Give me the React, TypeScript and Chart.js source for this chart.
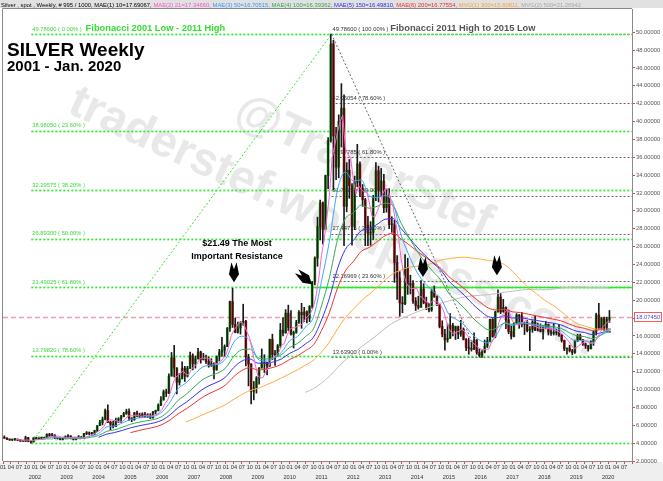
import React, { useEffect, useRef } from "react";
import { Chart, registerables } from "chart.js";

Chart.register(...registerables);

const W = 663;
const H = 481;
const FONT = "'Liberation Sans', Arial, Helvetica, sans-serif";

// ---- axis extent (months, Jan 2001 = 0) ----
const AXIS_START = "2001-01";
const AXIS_END = "2020-10";

// ---- monthly OHLC, Jan 2001 .. Jan 2020 ----
const open = [
  4.60, 4.55, 4.42, 4.35, 4.38, 4.40, 4.32, 4.25, 4.20, 4.62, 4.22, 4.12,
  4.58, 4.48, 4.55, 4.55, 4.60, 4.98, 4.85, 4.90, 4.55, 4.55, 4.40, 4.55,
  4.67, 4.80, 4.58, 4.42, 4.55, 4.60, 4.55, 5.08, 5.05, 5.15, 5.05, 5.40,
  5.96, 6.30, 6.65, 7.65, 6.35, 6.10, 5.85, 6.55, 6.75, 6.95, 7.30, 7.55,
  6.82, 6.65, 7.40, 7.10, 6.92, 7.25, 7.05, 7.10, 6.82, 7.50, 7.65, 8.25,
  8.83, 9.75, 9.60, 11.50, 13.55, 12.40, 10.80, 11.20, 12.40, 11.50, 12.40, 13.80,
  12.90, 13.45, 14.20, 13.35, 13.50, 13.15, 12.65, 12.90, 12.20, 13.75, 14.20, 14.40,
  14.80, 16.85, 19.85, 17.30, 16.40, 16.90, 17.45, 17.65, 13.65, 12.85, 9.80, 10.20,
  11.30, 12.40, 13.00, 13.05, 12.65, 15.60, 13.90, 13.95, 14.90, 16.65, 16.35, 18.55,
  16.95, 16.20, 16.40, 17.50, 18.65, 18.35, 18.70, 18.00, 19.30, 22.05, 24.70, 28.25,
  30.90, 27.95, 33.95, 37.85, 48.70, 38.40, 34.90, 40.05, 41.50, 30.50, 34.55, 32.80,
  28.25, 33.20, 35.25, 32.50, 31.25, 28.40, 27.50, 27.60, 31.60, 34.50, 32.35, 33.35,
  30.35, 31.70, 28.45, 28.45, 24.20, 22.50, 19.70, 19.60, 23.60, 21.70, 21.90, 19.90,
  19.40, 19.20, 21.25, 19.75, 19.10, 18.90, 21.00, 20.40, 19.50, 17.05, 16.20, 15.55,
  15.75, 17.20, 16.60, 17.05, 16.20, 16.75, 15.60, 14.70, 14.60, 14.50, 15.55, 14.15,
  13.85, 14.20, 14.85, 15.45, 17.85, 15.95, 18.70, 20.35, 18.70, 19.20, 17.80, 16.50,
  15.95, 17.45, 18.35, 18.20, 17.30, 17.45, 16.60, 16.75, 17.55, 16.65, 16.75, 16.50,
  17.00, 17.30, 16.45, 16.30, 16.35, 16.45, 16.10, 15.50, 14.55, 14.65, 14.35, 14.15,
  15.50, 16.05, 15.60, 15.10, 14.90, 14.55, 15.35, 16.45, 18.35, 16.90, 18.00, 16.95,
  17.85,
];
const high = [
  4.82, 4.62, 4.48, 4.45, 4.55, 4.48, 4.40, 4.35, 4.78, 4.65, 4.28, 4.62,
  4.65, 4.60, 4.65, 4.65, 5.05, 5.10, 5.10, 4.95, 4.65, 4.55, 4.60, 4.82,
  4.95, 4.85, 4.65, 4.65, 4.85, 4.75, 5.10, 5.30, 5.25, 5.20, 5.45, 5.98,
  6.55, 6.92, 7.82, 8.29, 6.45, 6.45, 6.80, 6.85, 7.10, 7.45, 7.80, 7.85,
  6.85, 7.45, 7.58, 7.35, 7.40, 7.45, 7.30, 7.30, 7.55, 7.70, 8.40, 9.20,
  9.95, 10.05, 11.75, 14.15, 14.95, 12.45, 11.80, 13.10, 12.60, 12.60, 14.20, 14.00,
  13.75, 14.60, 14.30, 14.05, 13.85, 13.65, 13.45, 13.00, 13.75, 14.50, 15.85, 15.00,
  16.95, 19.90, 21.35, 18.00, 17.55, 17.60, 19.55, 17.75, 13.95, 12.90, 10.90, 11.45,
  12.45, 14.55, 13.90, 13.05, 15.65, 16.20, 14.40, 15.05, 17.40, 18.05, 18.95, 19.45,
  18.85, 16.55, 17.75, 18.85, 19.65, 19.20, 18.80, 19.40, 22.10, 24.85, 29.30, 31.20,
  31.00, 34.00, 38.20, 49.80, 49.10, 39.35, 40.75, 44.25, 43.00, 35.40, 35.75, 33.05,
  33.90, 37.45, 35.50, 32.95, 31.40, 29.40, 28.80, 31.75, 35.40, 35.00, 34.75, 34.10,
  32.45, 32.50, 29.35, 28.95, 25.00, 23.20, 20.40, 25.10, 24.70, 22.80, 22.20, 20.30,
  20.45, 22.20, 21.85, 20.35, 19.65, 21.25, 21.60, 20.50, 19.55, 17.70, 16.75, 17.35,
  18.50, 17.40, 17.10, 17.10, 17.75, 16.90, 15.70, 15.75, 15.35, 16.35, 15.60, 14.55,
  14.35, 15.55, 15.85, 17.90, 17.95, 18.75, 21.15, 20.75, 20.10, 19.25, 18.90, 17.15,
  17.50, 18.50, 18.40, 18.65, 17.55, 17.75, 17.05, 17.70, 18.20, 17.45, 17.35, 17.15,
  17.65, 17.35, 16.80, 17.35, 16.75, 17.30, 16.15, 15.55, 14.65, 14.95, 14.50, 15.55,
  16.20, 16.20, 15.60, 15.20, 14.95, 15.45, 16.55, 18.55, 19.65, 18.10, 18.10, 18.10,
  18.85,
];
const low = [
  4.52, 4.40, 4.30, 4.28, 4.30, 4.28, 4.18, 4.18, 4.18, 4.15, 4.01, 4.12,
  4.42, 4.40, 4.45, 4.50, 4.55, 4.75, 4.80, 4.52, 4.45, 4.35, 4.35, 4.50,
  4.65, 4.55, 4.35, 4.37, 4.50, 4.50, 4.52, 4.95, 4.95, 4.85, 4.95, 5.28,
  5.95, 6.05, 6.60, 6.30, 5.50, 5.70, 5.85, 6.30, 6.30, 6.95, 7.22, 6.55,
  6.40, 6.55, 6.95, 6.85, 6.90, 6.85, 6.85, 6.75, 6.80, 7.30, 7.60, 8.20,
  8.80, 9.20, 9.55, 11.50, 11.40, 9.50, 10.50, 11.20, 10.90, 11.40, 12.35, 12.20,
  12.40, 13.40, 12.95, 13.30, 12.90, 12.50, 12.60, 11.20, 12.15, 13.20, 13.70, 13.70,
  14.80, 16.50, 16.95, 16.35, 16.30, 16.20, 17.20, 12.65, 10.40, 8.40, 8.85, 9.60,
  10.60, 12.40, 11.90, 11.65, 12.55, 13.35, 12.70, 13.70, 14.70, 16.00, 16.30, 16.60,
  16.10, 14.65, 16.30, 17.40, 16.85, 17.60, 17.45, 17.60, 19.10, 21.70, 23.80, 26.75,
  26.30, 27.90, 32.50, 37.70, 32.35, 33.50, 33.70, 37.15, 26.10, 29.90, 31.40, 26.15,
  27.90, 32.70, 31.60, 30.50, 26.10, 26.10, 26.15, 26.80, 31.15, 31.00, 31.60, 29.80,
  29.85, 28.00, 27.60, 22.00, 20.10, 18.20, 18.60, 19.50, 20.65, 20.70, 19.65, 18.85,
  19.00, 19.20, 19.60, 18.95, 18.70, 18.75, 20.30, 19.40, 16.90, 15.90, 14.40, 15.30,
  15.70, 16.00, 15.60, 15.70, 15.95, 15.55, 14.35, 13.95, 14.30, 14.45, 13.95, 13.64,
  13.60, 14.10, 14.70, 15.35, 15.85, 15.80, 18.65, 18.50, 18.65, 16.80, 16.25, 15.65,
  15.90, 17.30, 16.85, 17.00, 16.15, 16.45, 14.35, 16.40, 16.60, 16.55, 16.45, 15.65,
  16.80, 16.10, 16.05, 16.10, 16.10, 15.95, 15.30, 14.35, 13.95, 14.20, 13.90, 14.05,
  15.35, 15.55, 14.95, 14.60, 14.30, 14.55, 14.95, 16.10, 16.85, 16.70, 16.60, 16.65,
  17.50,
];
const close = [
  4.55, 4.42, 4.35, 4.38, 4.40, 4.32, 4.25, 4.20, 4.62, 4.22, 4.12, 4.58,
  4.48, 4.55, 4.55, 4.60, 4.98, 4.85, 4.90, 4.55, 4.55, 4.40, 4.55, 4.67,
  4.80, 4.58, 4.42, 4.55, 4.60, 4.55, 5.08, 5.05, 5.15, 5.05, 5.40, 5.96,
  6.30, 6.65, 7.65, 6.35, 6.10, 5.85, 6.55, 6.75, 6.95, 7.30, 7.55, 6.82,
  6.65, 7.40, 7.10, 6.92, 7.25, 7.05, 7.10, 6.82, 7.50, 7.65, 8.25, 8.83,
  9.75, 9.60, 11.50, 13.55, 12.40, 10.80, 11.20, 12.40, 11.50, 12.40, 13.80, 12.90,
  13.45, 14.20, 13.35, 13.50, 13.15, 12.65, 12.90, 12.20, 13.75, 14.20, 14.40, 14.80,
  16.85, 19.85, 17.30, 16.40, 16.90, 17.45, 17.65, 13.65, 12.85, 9.80, 10.20, 11.30,
  12.40, 13.00, 13.05, 12.65, 15.60, 13.90, 13.95, 14.90, 16.65, 16.35, 18.55, 16.95,
  16.20, 16.40, 17.50, 18.65, 18.35, 18.70, 18.00, 19.30, 22.05, 24.70, 28.25, 30.90,
  27.95, 33.95, 37.85, 48.70, 38.40, 34.90, 40.05, 41.50, 30.50, 34.55, 32.80, 28.25,
  33.20, 35.25, 32.50, 31.25, 28.40, 27.50, 27.60, 31.60, 34.50, 32.35, 33.35, 30.35,
  31.70, 28.45, 28.45, 24.20, 22.50, 19.70, 19.60, 23.60, 21.70, 21.90, 19.90, 19.40,
  19.20, 21.25, 19.75, 19.10, 18.90, 21.00, 20.40, 19.50, 17.05, 16.20, 15.55, 15.75,
  17.20, 16.60, 17.05, 16.20, 16.75, 15.60, 14.70, 14.60, 14.50, 15.55, 14.15, 13.85,
  14.20, 14.85, 15.45, 17.85, 15.95, 18.70, 20.35, 18.70, 19.20, 17.80, 16.50, 15.95,
  17.45, 18.35, 18.20, 17.30, 17.45, 16.60, 16.75, 17.55, 16.65, 16.75, 16.50, 17.00,
  17.30, 16.45, 16.30, 16.35, 16.45, 16.10, 15.50, 14.55, 14.65, 14.35, 14.15, 15.50,
  16.05, 15.60, 15.10, 14.90, 14.55, 15.35, 16.45, 18.35, 16.90, 18.00, 16.95, 17.85,
  18.07,
];

// ---- moving averages ----
const MA_LAST_DATE = "2020-01-31";
const MA21_START = "2001-05"; // monthly points
const MA21 = [
  4.42, 4.37, 4.34, 4.31, 4.36, 4.32, 4.28, 4.35,
  4.40, 4.39, 4.46, 4.55, 4.63, 4.71, 4.78, 4.78, 4.77, 4.65, 4.59, 4.54,
  4.59, 4.60, 4.60, 4.60, 4.59, 4.54, 4.64, 4.77, 4.89, 4.98, 5.15, 5.32,
  5.57, 5.87, 6.39, 6.58, 6.61, 6.52, 6.50, 6.32, 6.44, 6.68, 7.02, 7.07,
  7.05, 7.14, 7.10, 6.98, 7.06, 7.14, 7.08, 7.03, 7.14, 7.22, 7.46, 7.81,
  8.40, 8.82, 9.59, 10.65, 11.36, 11.57, 11.89, 12.07, 11.66, 11.66, 12.26, 12.60,
  12.81, 13.35, 13.54, 13.48, 13.53, 13.37, 13.11, 12.88, 12.93, 13.14, 13.49, 13.87,
  14.80, 16.02, 16.64, 17.04, 17.46, 17.58, 17.14, 16.41, 15.70, 14.28, 12.83, 11.56,
  11.31, 11.34, 11.99, 12.48, 13.34, 13.64, 13.83, 14.20, 15.00, 15.15, 16.08, 16.68,
  16.94, 16.89, 17.12, 17.14, 17.42, 17.92, 18.24, 18.60, 19.28, 20.55, 22.46, 25.04,
  26.77, 29.15, 31.78, 35.87, 37.37, 38.76, 39.98, 40.71, 37.07, 36.30, 35.88, 33.52,
  31.86, 32.81, 32.40, 32.09, 32.12, 30.98, 29.45, 29.27, 29.92, 30.71, 31.88, 32.43,
  32.45, 31.24, 30.46, 28.63, 27.06, 24.66, 22.89, 21.92, 21.42, 21.30, 21.34, 21.30,
  20.42, 20.33, 19.90, 19.74, 19.64, 20.00, 19.83, 19.78, 19.37, 18.83, 17.74, 16.81,
  16.35, 16.26, 16.43, 16.56, 16.76, 16.44, 16.06, 15.57, 15.23, 14.99, 14.70, 14.53,
  14.45, 14.52, 14.50, 15.24, 15.66, 16.56, 17.66, 18.31, 18.58, 18.95, 18.51, 17.63,
  17.38, 17.21, 17.29, 17.45, 17.75, 17.58, 17.26, 17.13, 17.00, 16.86, 16.84, 16.89,
  16.84, 16.80, 16.71, 16.68, 16.57, 16.33, 16.14, 15.79, 15.45, 15.03, 14.64, 14.64,
  14.94, 15.13, 15.28, 15.43, 15.24, 15.10, 15.27, 15.92, 16.32, 17.01, 17.33, 17.61,
  17.55,
];
const MA50_START = "2001-12"; // quarterly points from here
const MA50 = [
  4.37, 4.44, 4.59, 4.62, 4.59, 4.59, 4.58, 4.79, 5.07, 5.80,
  5.92, 6.26, 6.65, 6.81, 6.92, 7.01, 7.51, 8.63, 10.10, 10.75,
  11.67, 12.48, 12.73, 12.82, 13.49, 15.32, 15.97, 15.46, 13.42, 13.18,
  13.53, 14.19, 15.44, 15.95, 17.01, 18.13, 22.11, 26.62, 32.31, 34.35,
  33.35, 33.47, 31.68, 31.50, 31.71, 30.83, 27.31, 25.01, 23.14, 21.90,
  21.00, 20.18, 18.42, 17.82, 17.16, 16.12, 15.47, 15.21, 16.14, 17.47,
  17.18, 17.51, 17.35, 17.20, 17.02, 16.88, 16.65, 15.94, 15.43, 15.49,
  15.26, 16.06, 16.68,
];
const MA50_LAST = 16.71;
const MA100_START = "2002-12";
const MA100 = [
  4.50, 4.52, 4.53, 4.66, 4.85, 5.31, 5.49, 5.78, 6.11, 6.33,
  6.50, 6.65, 7.01, 7.76, 8.79, 9.46, 10.28, 11.06, 11.53, 11.86,
  12.46, 13.73, 14.46, 14.52, 13.58, 13.41, 13.56, 13.93, 14.70, 15.16,
  15.94, 16.82, 19.37, 22.55, 26.70, 29.14, 29.77, 30.66, 30.29, 30.51,
  30.86, 30.56, 28.63, 27.03, 25.51, 24.26, 23.21, 22.24, 20.77, 19.90,
  19.05, 18.03, 17.23, 16.68, 16.87, 17.45, 17.29, 17.45, 17.37, 17.28,
  17.16, 17.05, 16.88, 16.43, 16.03, 15.93, 15.70, 16.05, 16.41,
];
const MA100_LAST = 16.39;
const MA150_START = "2003-12";
const MA150 = [
  4.65, 5.00, 5.18, 5.43, 5.71, 5.92, 6.10, 6.27, 6.58, 7.17,
  7.98, 8.57, 9.28, 9.98, 10.48, 10.87, 11.44, 12.48, 13.19, 13.43,
  12.95, 12.93, 13.11, 13.44, 14.05, 14.47, 15.12, 15.86, 17.78, 20.24,
  23.49, 25.69, 26.67, 27.78, 27.98, 28.50, 29.06, 29.13, 28.02, 27.00,
  25.95, 25.02, 24.17, 23.35, 22.15, 21.32, 20.50, 19.56, 18.76, 18.14,
  18.04, 18.26, 18.02, 18.02, 17.88, 17.74, 17.58, 17.44, 17.26, 16.89,
  16.54, 16.39, 16.16, 16.33, 16.53,
];
const MA150_LAST = 16.5;
const MA200_START = "2004-12";
const MA200 = [
  5.17, 5.40, 5.60, 5.79, 6.09, 6.60, 7.29, 7.83, 8.46, 9.10,
  9.59, 10.00, 10.55, 11.46, 12.13, 12.45, 12.20, 12.28, 12.50, 12.83,
  13.37, 13.78, 14.36, 15.02, 16.60, 18.63, 21.32, 23.28, 24.33, 25.47,
  25.91, 26.56, 27.23, 27.51, 26.85, 26.21, 25.50, 24.84, 24.21, 23.57,
  22.63, 21.94, 21.24, 20.43, 19.71, 19.11, 18.91, 18.97, 18.70, 18.61,
  18.43, 18.25, 18.07, 17.90, 17.71, 17.37, 17.04, 16.86, 16.62, 16.69,
  16.80,
];
const MA200_LAST = 16.78;
const MA300_START = "2006-09";
const MA300 = [
  6.37, 6.74, 7.14, 7.52, 7.90, 8.33, 8.91, 9.44, 9.88, 10.13,
  10.49, 10.88, 11.30, 11.76, 12.22, 12.73, 13.28, 14.19, 15.32, 16.78,
  18.05, 18.99, 19.92, 20.67, 21.46, 22.26, 22.98, 23.37, 23.69, 23.79,
  23.93, 24.14, 24.51, 24.64, 24.77, 24.81, 24.70, 24.60, 24.44, 24.34,
  23.97, 23.25, 22.27, 21.39, 20.74, 20.01, 19.47, 18.82, 18.07, 17.43,
  17.14, 16.85, 16.71, 16.61,
];
const MA300_LAST = 16.55;
const MA500_START = "2010-06";
const MA500 = [
  9.69, 10.10, 10.72, 11.48, 12.43, 13.30, 14.01, 14.77, 15.42, 16.12,
  16.84, 17.48, 17.92, 18.31, 18.69, 19.04, 19.36, 19.68, 19.91, 20.17,
  20.38, 20.49, 20.55, 20.63, 20.75, 20.90, 21.00, 21.13, 21.20, 21.17,
  21.17, 21.22, 21.37, 21.43, 21.45, 21.46, 21.39, 21.41, 21.38,
];
const MA500_LAST = 21.27;

// ---- header legend ----
const headerLead = "Silver , spot , Weekly, # 995 / 1000, ";
const headerItems = [
  "MAE(1) 10=17.69067", "MAE(2) 21=17.34660", "MAE(3) 50=16.70515", "MAE(4) 100=16.39362",
  "MAE(5) 150=16.49810", "MAE(6) 200=16.77554", "MVG(1) 300=15.60811", "MVG(2) 500=21.26942",
];
const headerColors = ["#000000", "#ff4fc8", "#2f9bff", "#2faa55", "#2b2bf0", "#ee2b2b", "#ffa030", "#a8a8a8"];
const maColors = { ma21: "#ff5fd0", ma50: "#3fa8ff", ma100: "#33aa55", ma150: "#3333ee", ma200: "#ee3333", ma300: "#ffac40", ma500: "#c0c0c0" };

// ---- ticks ----
const yTickValues = [2, 4, 6, 8, 10, 12, 14, 16, 18, 20, 22, 24, 26, 28, 30, 32, 34, 36, 38, 40, 42, 44, 46, 48, 50];
const quarterTickNames = ["01", "04", "07", "10"];

// ---- Fibonacci ----
const FIB1_LOW_DATE = "2001-11-21";
const FIB1_HIGH_DATE = "2011-04-25";
const FIB2_LOW_DATE = "2015-12-14";
const fib1Levels = [49.786, 38.9805, 32.29575, 26.893, 21.49025, 13.7982, 4.0];
const fib1Pct = ["0.00", "23.60", "38.20", "50.00", "61.80", "78.60", "100.00"];
const fib2Levels = [49.786, 42.05054, 35.97785, 31.7125, 27.44715, 22.16969, 13.639];
const fib2Pct = ["100.00", "78.60", "61.80", "50.00", "38.20", "23.60", "0.00"];
const RESIST_START = "2010-09-01";
const LAST_PRICE = 18.0745;

// ---- annotations ----
const arrowDates = ["2008-04-02", "2010-09-13", "2014-03-08", "2016-07-04"];
const arrowValues = [22.0, 21.8, 22.6, 22.8];
const arrowTurns = [0, -50, 0, 0];
const noteDate = "2008-05-05";
const noteLines = ["$21.49 The Most", "Important Resistance"];
const noteValues = [26.3, 24.85];

function monthIndex(label: string): number {
  const p = label.split("-").map(Number);
  return (p[0] - 2001) * 12 + (p[1] - 1) + (p.length > 2 ? (p[2] - 1) / 30 : 0);
}

function monthlyPoints(start: string, vals: number[]) {
  const s = monthIndex(start);
  return vals.map((v, k) => ({ x: s + k + 1, y: v }));
}
function quarterlyPoints(start: string, vals: number[], last: number) {
  const s = monthIndex(start);
  const pts = vals.map((v, k) => ({ x: s + 3 * k + 1, y: v }));
  pts.push({ x: monthIndex(MA_LAST_DATE), y: last });
  return pts;
}

const decorPlugin = {
  id: "decor",
  beforeDraw(chart: any) {
    const { ctx, chartArea: a } = chart;
    ctx.save();
    ctx.fillStyle = "#ffffff";
    ctx.fillRect(0, 0, W, H);
    ctx.fillStyle = "#efefef";
    ctx.fillRect(0, a.bottom + 1, W, H - a.bottom - 1);
    ctx.fillStyle = "#e1e1e1";
    ctx.fillRect(0, 0, W, a.top - 1);
    const full = headerLead + headerItems.join(", ");
    ctx.font = `10px ${FONT}`;
    const size = (10 * 581) / ctx.measureText(full).width;
    ctx.font = `${size}px ${FONT}`;
    ctx.textBaseline = "alphabetic";
    let x = 1;
    ctx.fillStyle = "#000";
    ctx.fillText(headerLead, x, 6.5);
    x += ctx.measureText(headerLead).width;
    headerItems.forEach((t, i) => {
      const s = i < headerItems.length - 1 ? t + ", " : t;
      ctx.fillStyle = headerColors[i];
      ctx.fillText(s, x, 6.5);
      x += ctx.measureText(s).width;
    });
    ctx.restore();
  },
  beforeDatasetsDraw(chart: any) {
    const { ctx, chartArea: a, scales } = chart;
    const xp = (d: string) => scales.x.getPixelForValue(monthIndex(d));
    const yp = (v: number) => scales.y.getPixelForValue(v);
    ctx.save();
    ctx.beginPath();
    ctx.rect(a.left, a.top, a.right - a.left, a.bottom - a.top);
    ctx.clip();

    // watermarks
    ctx.fillStyle = "#e8e8e8";
    ctx.font = `bold 47px ${FONT}`;
    ctx.textBaseline = "alphabetic";
    ctx.save();
    ctx.translate(66, 112);
    ctx.rotate((25 * Math.PI) / 180);
    ctx.fillText("traderstef.wordpress.com", 0, 0);
    ctx.restore();
    ctx.save();
    ctx.translate(232, 120);
    ctx.rotate((25 * Math.PI) / 180);
    ctx.fillText("@TraderStef", 0, 0);
    ctx.restore();

    const line = (x1: number, y1: number, x2: number, y2: number) => {
      ctx.beginPath();
      ctx.moveTo(x1, y1);
      ctx.lineTo(x2, y2);
      ctx.stroke();
    };

    // current price line
    ctx.strokeStyle = "rgba(240,140,160,0.85)";
    ctx.lineWidth = 1.6;
    ctx.setLineDash([5, 3]);
    const py = Math.round(yp(LAST_PRICE)) + 0.5;
    line(a.left, py, a.right, py);

    // Fibonacci 2011 high -> 2015 low (gray)
    const gx = xp(FIB1_HIGH_DATE);
    ctx.strokeStyle = "#666666";
    ctx.lineWidth = 1;
    ctx.setLineDash([2, 2]);
    fib2Levels.forEach((v) => {
      const y = Math.round(yp(v)) + 0.5;
      line(gx, y, a.right, y);
    });
    line(gx, yp(fib2Levels[0]), xp(FIB2_LOW_DATE), yp(fib2Levels[6]));

    // Fibonacci 2001 low -> 2011 high (green)
    const fx = xp(FIB1_LOW_DATE);
    ctx.strokeStyle = "#2ee82e";
    ctx.lineWidth = 1.7;
    ctx.setLineDash([2, 2]);
    fib1Levels.forEach((v) => {
      const y = Math.round(yp(v)) + 0.5;
      line(fx, y, a.right, y);
    });
    ctx.lineWidth = 1;
    line(fx, yp(fib1Levels[6]), gx, yp(fib1Levels[0]));
    ctx.setLineDash([]);
    ctx.lineWidth = 1.3;
    const ry = Math.round(yp(fib1Levels[4])) + 0.5;
    line(xp(RESIST_START), ry, a.right, ry);

    // Fib labels
    ctx.font = `5.8px ${FONT}`;
    ctx.textBaseline = "bottom";
    ctx.fillStyle = "#3cd83c";
    fib1Levels.forEach((v, i) => {
      ctx.fillText(`${v.toFixed(5)} ( ${fib1Pct[i]}% )`, fx + 1, yp(v) - 2);
    });
    ctx.fillStyle = "#333333";
    fib2Levels.forEach((v, i) => {
      ctx.fillText(`${v.toFixed(5)} ( ${fib2Pct[i]}% )`, gx + 1, yp(v) - 2);
    });
    const w1 = ctx.measureText(`${fib1Levels[0].toFixed(5)} ( ${fib1Pct[0]}% )`).width;
    const w2 = ctx.measureText(`${fib2Levels[0].toFixed(5)} ( ${fib2Pct[0]}% )`).width;
    ctx.font = `bold 9.3px ${FONT}`;
    ctx.fillStyle = "#33dd33";
    ctx.fillText("Fibonacci 2001 Low - 2011 High", fx + w1 + 5, yp(fib1Levels[0]) - 1.5);
    ctx.fillStyle = "#555555";
    ctx.fillText("Fibonacci 2011 High to 2015 Low", gx + w2 + 3, yp(fib2Levels[0]) - 1.5);
    ctx.restore();
  },
  afterDatasetsDraw(chart: any) {
    const { ctx, chartArea: a, scales } = chart;
    const xp = (d: string) => scales.x.getPixelForValue(monthIndex(d));
    const yp = (v: number) => scales.y.getPixelForValue(v);
    ctx.save();
    ctx.strokeStyle = "#8a8a8a";
    ctx.lineWidth = 1;
    ctx.beginPath();
    ctx.moveTo(a.left - 0.5, a.bottom);
    ctx.lineTo(a.left - 0.5, a.top - 0.5);
    ctx.lineTo(a.right, a.top - 0.5);
    ctx.stroke();

    // titles
    ctx.fillStyle = "#000";
    ctx.textBaseline = "alphabetic";
    ctx.textAlign = "left";
    ctx.font = `bold 19px ${FONT}`;
    ctx.fillText("SILVER Weekly", 7, 56);
    ctx.font = `bold 15px ${FONT}`;
    ctx.fillText("2001 - Jan. 2020", 7, 71);

    // note text
    ctx.font = `bold 9px ${FONT}`;
    ctx.textAlign = "center";
    ctx.textBaseline = "middle";
    noteLines.forEach((t, i) => ctx.fillText(t, xp(noteDate), yp(noteValues[i])));

    // arrows
    ctx.fillStyle = "#000";
    arrowDates.forEach((d, i) => {
      ctx.save();
      ctx.translate(xp(d), yp(arrowValues[i]));
      ctx.rotate((arrowTurns[i] * Math.PI) / 180);
      ctx.beginPath();
      ctx.moveTo(0, 0);
      ctx.lineTo(5, -8);
      ctx.lineTo(2.6, -20);
      ctx.lineTo(0, -13);
      ctx.lineTo(-2.6, -20);
      ctx.lineTo(-5, -8);
      ctx.closePath();
      ctx.fill();
      ctx.restore();
    });

    // last price box
    const py = Math.round(yp(LAST_PRICE));
    ctx.fillStyle = "#ffffff";
    ctx.fillRect(a.right + 2, py - 5, W - a.right - 3, 10);
    ctx.strokeStyle = "#ff5a5a";
    ctx.lineWidth = 1;
    ctx.strokeRect(a.right + 2.5, py - 4.5, W - a.right - 4, 9);
    ctx.fillStyle = "#4a4ad0";
    ctx.font = `5.8px ${FONT}`;
    ctx.textAlign = "left";
    ctx.textBaseline = "middle";
    ctx.fillText(LAST_PRICE.toFixed(5), a.right + 4, py + 0.5);
    ctx.restore();
  },
};

export default function App() {
  const ref = useRef<HTMLCanvasElement | null>(null);
  useEffect(() => {
    document.body.style.margin = "0";
    const canvas = ref.current;
    if (!canvas) return;
    const wick = open.map((_, i) => ({ x: i + 0.5, y: [low[i], high[i]] }));
    const body = open.map((o, i) => ({ x: i + 0.5, y: [o, close[i]] }));
    const bodyColors = open.map((o, i) => (close[i] >= o ? "#13b013" : "#ee1c1c"));
    const lineDs = (label: string, data: any[], color: string, smooth: boolean, order: number) => ({
      type: "line" as const,
      label,
      data,
      borderColor: color,
      borderWidth: 1,
      pointRadius: 0,
      fill: false,
      tension: 0,
      cubicInterpolationMode: smooth ? ("monotone" as const) : ("default" as const),
      order,
    });
    const lastTick = monthIndex(AXIS_END);
    const chart = new Chart(canvas, {
      type: "line",
      data: {
        datasets: [
          lineDs("MAE 21", monthlyPoints(MA21_START, MA21), maColors.ma21, false, 1),
          lineDs("MAE 50", quarterlyPoints(MA50_START, MA50, MA50_LAST), maColors.ma50, true, 2),
          lineDs("MAE 100", quarterlyPoints(MA100_START, MA100, MA100_LAST), maColors.ma100, true, 3),
          lineDs("MAE 150", quarterlyPoints(MA150_START, MA150, MA150_LAST), maColors.ma150, true, 4),
          lineDs("MAE 200", quarterlyPoints(MA200_START, MA200, MA200_LAST), maColors.ma200, true, 5),
          lineDs("MVG 300", quarterlyPoints(MA300_START, MA300, MA300_LAST), maColors.ma300, true, 6),
          lineDs("MVG 500", quarterlyPoints(MA500_START, MA500, MA500_LAST), maColors.ma500, true, 7),
          {
            type: "bar" as const,
            label: "wick",
            data: wick as any,
            backgroundColor: "#1a1a1a",
            barThickness: 1,
            grouped: false,
            borderWidth: 0,
            order: 10,
          },
          {
            type: "bar" as const,
            label: "body",
            data: body as any,
            backgroundColor: bodyColors,
            barThickness: 2,
            grouped: false,
            borderWidth: 0,
            minBarLength: 1,
            order: 11,
          },
        ],
      },
      options: {
        animation: false,
        responsive: false,
        maintainAspectRatio: false,
        devicePixelRatio: 1,
        layout: { padding: { top: 9, left: 3, right: 0, bottom: 0 } },
        plugins: { legend: { display: false }, tooltip: { enabled: false }, title: { display: false } },
        scales: {
          x: {
            type: "linear",
            position: "bottom",
            offset: false,
            min: monthIndex(AXIS_START),
            max: lastTick,
            grid: { drawOnChartArea: false, drawTicks: true, tickLength: 3, color: "#e04848", offset: false },
            border: { display: true, color: "#8a8a8a" },
            ticks: {
              autoSkip: false,
              maxRotation: 0,
              minRotation: 0,
              padding: -1,
              color: "#333333",
              font: { family: FONT, size: 5.6, lineHeight: "9.5px" },
              callback: (value: any) => {
                const v = Number(value);
                if (v >= lastTick) return "";
                const m = v % 12;
                const y = 2001 + Math.floor(v / 12);
                const name = quarterTickNames[m / 3];
                if (m === 0 && y > 2001) return [name, String(y)];
                return name;
              },
            },
            afterBuildTicks: (s: any) => {
              const t: any[] = [];
              for (let v = monthIndex(AXIS_START); v <= lastTick; v += 3) t.push({ value: v });
              s.ticks = t;
            },
            afterFit: (s: any) => {
              s.height = 20;
            },
          },
          y: {
            type: "linear",
            position: "right",
            min: 2,
            max: 52.6,
            grid: { drawOnChartArea: false, drawTicks: true, tickLength: 3, color: "#e04848" },
            border: { display: true, color: "#8a8a8a" },
            ticks: {
              padding: 1,
              color: "#555555",
              font: { family: FONT, size: 5.8 },
              callback: (value: any) => Number(value).toFixed(5),
            },
            afterBuildTicks: (s: any) => {
              s.ticks = yTickValues.map((v) => ({ value: v }));
            },
            afterFit: (s: any) => {
              s.width = 31;
            },
          },
        },
      } as any,
      plugins: [decorPlugin],
    });
    return () => chart.destroy();
  }, []);
  return (
    <div style={{ width: W, height: H }}>
      <canvas ref={ref} width={W} height={H} style={{ display: "block", width: W, height: H }} />
    </div>
  );
}
